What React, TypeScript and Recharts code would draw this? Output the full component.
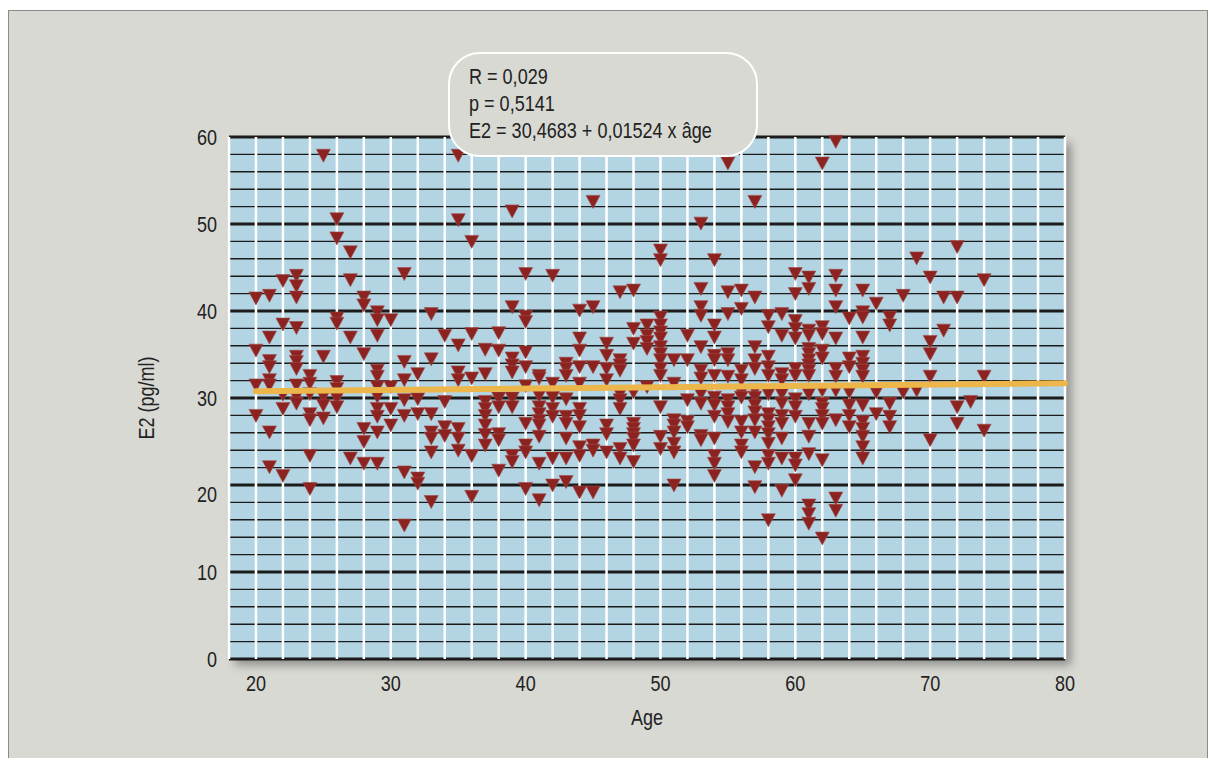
import React from "react";
import { ScatterChart, Scatter, XAxis, YAxis, CartesianGrid } from "recharts";

// axis ticks (grid every 2 units, labels every 10)
const xTicks = [18, 20, 22, 24, 26, 28, 30, 32, 34, 36, 38, 40, 42, 44, 46, 48, 50, 52, 54, 56, 58, 60, 62, 64, 66, 68, 70, 72, 74, 76, 78, 80];
const yTicks = [0, 2, 4, 6, 8, 10, 12, 14, 16, 18, 20, 22, 24, 26, 28, 30, 32, 34, 36, 38, 40, 42, 44, 46, 48, 50, 52, 54, 56, 58, 60];

// E2 (pg/ml) readings per age
const twenties: [number, number[]][] = [
  [20, [41.5, 35.5, 31.5, 28.0]],
  [21, [41.8, 37.0, 34.3, 33.6, 32.1, 31.5, 26.1, 22.1]],
  [22, [43.5, 38.5, 30.4, 28.8, 21.1]],
  [23, [44.1, 42.9, 41.6, 38.1, 34.8, 34.2, 33.4, 31.5, 30.2, 29.4]],
  [24, [32.6, 31.7, 30.5, 28.2, 27.5, 23.4, 19.6]],
  [25, [57.9, 34.8, 30.2, 29.2, 27.7]],
  [26, [50.6, 48.4, 39.2, 38.6, 31.9, 31.1, 30.0, 29.0]],
  [27, [46.8, 43.6, 37.0, 23.1]],
  [28, [41.6, 40.7, 35.1, 26.5, 25.0, 22.5]],
  [29, [39.9, 39.0, 37.2, 33.2, 32.5, 31.3, 30.2, 28.8, 27.9, 26.1, 22.5]],
];
const thirties: [number, number[]][] = [
  [30, [39.0, 31.3, 28.8, 26.9]],
  [31, [44.3, 34.2, 32.1, 29.8, 28.0, 21.5, 15.4]],
  [32, [32.8, 29.9, 28.2, 20.8, 20.2]],
  [33, [39.7, 34.5, 28.2, 26.1, 25.4, 23.8, 18.1]],
  [34, [37.2, 29.6, 26.7, 25.7]],
  [35, [57.9, 50.5, 36.1, 33.0, 32.1, 26.5, 25.4, 24.0]],
  [36, [48.0, 37.4, 32.3, 23.4, 18.7]],
  [37, [35.6, 32.8, 29.6, 28.8, 28.0, 26.9, 25.8, 24.6]],
  [38, [37.5, 35.5, 30.0, 29.0, 25.9, 25.2, 21.7]],
  [39, [51.5, 40.5, 34.6, 33.8, 33.0, 30.0, 29.0, 23.4, 22.7]],
];
const forties: [number, number[]][] = [
  [40, [44.3, 39.4, 38.8, 35.3, 33.6, 31.4, 27.1, 24.6, 23.8, 19.6]],
  [41, [32.6, 32.3, 30.3, 29.0, 28.2, 27.4, 26.9, 25.6, 22.5, 18.3]],
  [42, [44.1, 31.7, 30.1, 28.8, 27.9, 23.1, 20.0]],
  [43, [34.0, 33.4, 32.6, 29.9, 27.9, 27.1, 25.4, 23.1, 20.4]],
  [44, [40.1, 36.9, 35.5, 33.6, 31.7, 28.8, 28.0, 26.7, 24.4, 23.4, 19.2]],
  [45, [52.6, 40.5, 33.6, 24.6, 24.0, 19.2]],
  [46, [36.3, 34.9, 33.4, 32.1, 26.9, 25.9, 23.8]],
  [47, [42.2, 34.4, 33.8, 33.2, 30.5, 29.8, 28.8, 24.2, 23.1]],
  [48, [42.4, 38.0, 36.3, 30.7, 27.1, 26.5, 25.9, 25.4, 24.6, 22.7]],
  [49, [38.4, 37.2, 36.5, 35.7, 31.3]],
];
const fifties: [number, number[]][] = [
  [50, [47.0, 45.9, 39.3, 38.4, 37.6, 36.9, 35.9, 35.1, 34.4, 33.4, 32.6, 29.0, 25.6, 24.2]],
  [51, [34.4, 31.7, 27.5, 26.9, 26.1, 24.8, 23.8, 20.0]],
  [52, [37.2, 34.4, 29.8, 27.3, 26.7]],
  [53, [50.1, 42.6, 40.5, 39.5, 35.9, 33.2, 32.3, 30.5, 29.4, 25.7, 25.2]],
  [54, [45.9, 38.4, 37.0, 34.9, 34.4, 32.6, 30.1, 29.2, 27.9, 25.4, 23.4, 22.5, 21.1]],
  [55, [57.0, 42.2, 39.7, 35.1, 34.4, 32.5, 29.8, 29.0, 28.2, 27.3]],
  [56, [42.4, 40.3, 33.2, 32.1, 30.7, 30.1, 27.3, 26.1, 24.6, 23.8]],
  [57, [52.6, 41.6, 35.9, 34.4, 33.4, 30.9, 30.1, 29.2, 28.4, 27.5, 26.1, 22.1, 19.8]],
  [58, [39.5, 38.2, 34.8, 33.6, 32.6, 30.5, 28.2, 27.5, 26.7, 25.9, 24.8, 23.4, 22.5, 16.0]],
  [59, [39.7, 37.2, 32.8, 32.1, 30.5, 29.4, 28.0, 27.1, 25.4, 23.1, 19.4]],
];
const sixties: [number, number[]][] = [
  [60, [44.3, 42.0, 38.9, 38.0, 36.9, 33.4, 32.6, 29.9, 29.0, 27.9, 23.1, 22.3, 20.6]],
  [61, [43.9, 42.6, 37.8, 37.2, 35.7, 35.1, 34.4, 33.8, 33.2, 32.6, 30.5, 27.1, 25.6, 23.6, 17.7, 16.7, 15.6]],
  [62, [57.0, 38.2, 37.4, 35.5, 34.6, 30.9, 29.4, 28.8, 28.0, 27.1, 22.9, 13.9]],
  [63, [59.5, 44.1, 42.4, 40.5, 36.9, 33.4, 32.5, 30.9, 27.5, 18.5, 17.1]],
  [64, [39.2, 34.6, 33.6, 30.7, 29.2, 28.0, 26.7]],
  [65, [42.4, 39.9, 39.3, 37.0, 34.8, 34.0, 33.2, 32.5, 29.2, 27.3, 26.5, 25.6, 24.4, 23.1]],
  [66, [40.9, 30.7, 28.2]],
  [67, [39.3, 38.4, 29.4, 27.9, 26.7]],
  [68, [41.8, 30.7]],
  [69, [46.1, 30.9]],
];
const seventies: [number, number[]][] = [
  [70, [43.9, 36.5, 35.1, 32.5, 25.2]],
  [71, [41.6, 37.8]],
  [72, [47.4, 41.6, 29.0, 27.1]],
  [73, [29.6]],
  [74, [43.6, 32.5, 26.3]],
];

// regression from the annotation
const regIntercept = 30.4683;
const regSlope = 0.01524;
const regAges = [20, 80];

const points = [...twenties, ...thirties, ...forties, ...fifties, ...sixties, ...seventies].flatMap(
  ([age, vals]) => vals.map((e2) => ({ age, e2 }))
);
const regLine = regAges.map((age) => ({ age, e2: regIntercept + regSlope * age }));

// no narrow font installed: squeeze Liberation Sans to an Arial Narrow look
const FONT = '"Liberation Sans", Arial, sans-serif';
const SQUEEZE = 0.82;
const BG = "#D8D9D3";
const INK = "#222";

const NarrowText = ({ x, y, anchor, dy, angle = 0, children }: any) => (
  <g transform={`translate(${x} ${y}) rotate(${angle}) scale(${SQUEEZE} 1)`}>
    <text x={0} y={0} dy={dy} textAnchor={anchor} fill={INK} fontSize={22} fontFamily={FONT}>
      {children}
    </text>
  </g>
);

const DownTriangle = (props: any) => {
  const { cx, cy } = props;
  if (cx == null || cy == null) return <g />;
  return (
    <polygon
      points={`${cx - 7},${cy - 6} ${cx + 7},${cy - 6} ${cx},${cy + 7}`}
      fill="#8D2321"
      stroke="#9E4B47"
      strokeWidth={0.6}
    />
  );
};

const XTick = ({ x, y, payload }: any) =>
  payload.value % 10 === 0 ? (
    <NarrowText x={x} y={y} anchor="middle" dy="0.71em">
      {payload.value}
    </NarrowText>
  ) : (
    <g />
  );

const YTick = ({ x, y, payload }: any) =>
  payload.value % 10 === 0 ? (
    // the "20" label sits a little below its line in the original
    <NarrowText x={x} y={y + (payload.value === 20 ? 9 : 0)} anchor="end" dy="0.355em">
      {payload.value}
    </NarrowText>
  ) : (
    <g />
  );

const AgeLabel = ({ viewBox }: any) => (
  <NarrowText x={viewBox.x + viewBox.width / 2} y={viewBox.y + viewBox.height - 9} anchor="middle">
    Age
  </NarrowText>
);

const E2Label = ({ viewBox }: any) => (
  <NarrowText x={viewBox.x + 145} y={viewBox.y + viewBox.height / 2} anchor="middle" angle={-90}>
    E2 (pg/ml)
  </NarrowText>
);

const GridRow = (props: any) => {
  const { x1, x2, y1, y2, index } = props;
  const major = index % 5 === 0;
  return (
    <line
      key={`h-${index}`}
      x1={x1}
      x2={x2}
      y1={y1}
      y2={y2}
      stroke="#1b1b1b"
      strokeWidth={major ? 3 : 1.4}
    />
  );
};

export default function App() {
  return (
    <div style={{ paddingTop: 2 }}>
      <div
        style={{
          position: "relative",
          width: 1198,
          height: 760,
          background: BG,
          border: "1px solid #8a8a8a",
          overflow: "hidden",
          fontFamily: FONT,
        }}
      >
        {/* plot area drop shadow */}
        <div
          style={{
            position: "absolute",
            left: 220,
            top: 126,
            width: 836,
            height: 522,
            boxShadow: "6px 6px 9px rgba(0,0,0,0.35)",
          }}
        />
        <div style={{ position: "absolute", left: 0, top: 0 }}>
          <ScatterChart width={1198} height={745} margin={{ top: 126, right: 142, bottom: 22, left: 0 }}>
            <CartesianGrid
              fill="#B3D4E3"
              fillOpacity={1}
              stroke="#ffffff"
              strokeWidth={2.5}
              horizontal={GridRow}
            />
            <XAxis
              type="number"
              dataKey="age"
              domain={[18, 80]}
              ticks={xTicks}
              interval={0}
              axisLine={false}
              tickLine={false}
              tickSize={0}
              tickMargin={16}
              height={75}
              tick={<XTick />}
              label={{ content: AgeLabel }}
            />
            <YAxis
              type="number"
              dataKey="e2"
              domain={[0, 60]}
              ticks={yTicks}
              interval={0}
              axisLine={false}
              tickLine={false}
              tickSize={0}
              tickMargin={12}
              width={220}
              tick={<YTick />}
              label={{ content: E2Label }}
            />
            <Scatter data={points} shape={<DownTriangle />} isAnimationActive={false} />
            <Scatter
              data={regLine}
              line={{ stroke: "#EDB64A", strokeWidth: 6, strokeLinecap: "round" }}
              shape={() => <g />}
              isAnimationActive={false}
            />
          </ScatterChart>
        </div>
        {/* correlation annotation */}
        <div
          style={{
            position: "absolute",
            left: 439,
            top: 41,
            width: 310,
            height: 105,
            boxSizing: "border-box",
            border: "2px solid #ffffff",
            borderRadius: 32,
            background: BG,
            color: INK,
            fontSize: 22,
            lineHeight: "27px",
            paddingTop: 9,
            paddingLeft: 19,
            whiteSpace: "nowrap",
          }}
        >
          <div style={{ transform: `scaleX(${SQUEEZE})`, transformOrigin: "0 0" }}>
            <div>R = 0,029</div>
            <div>p = 0,5141</div>
            <div>E2 = 30,4683 + 0,01524 x âge</div>
          </div>
        </div>
      </div>
    </div>
  );
}
